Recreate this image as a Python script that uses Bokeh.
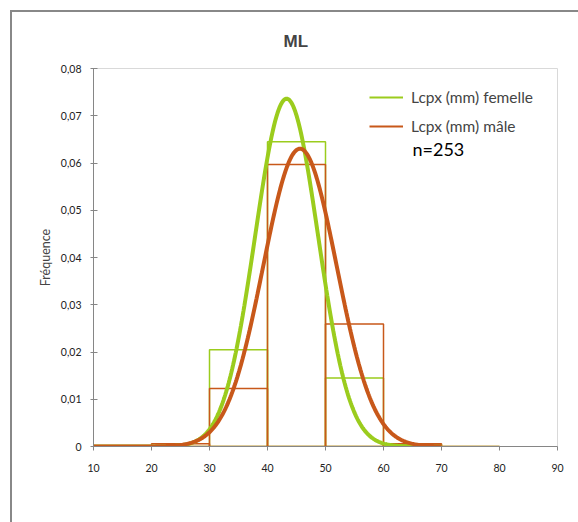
import numpy as np
from bokeh.plotting import figure
from bokeh.models import Range1d, FixedTicker, Label, Legend, LegendItem, Div
from bokeh.layouts import column
from bokeh.embed import file_html
from bokeh.resources import INLINE

# ---- data ----
bin_left = [10, 20, 30, 40, 50, 60, 70]
bin_right = [20, 30, 40, 50, 60, 70, 80]
female_freq = [0.0, 0.0, 0.0205, 0.0645, 0.0145, 0.0004, 0.0]
male_freq = [0.0, 0.0006, 0.0123, 0.0597, 0.0259, 0.0006, 0.0]
female_mean, female_sd = 43.3, 5.42
male_mean, male_sd = 45.6, 6.33
curve_start, curve_end = 10, 70
x_ticks = [10, 20, 30, 40, 50, 60, 70, 80, 90]
y_ticks = [0, 0.01, 0.02, 0.03, 0.04, 0.05, 0.06, 0.07, 0.08]
y_tick_labels = ["0", "0,01", "0,02", "0,03", "0,04", "0,05", "0,06", "0,07", "0,08"]
series_names = ["Lcpx (mm) femelle", "Lcpx (mm) mâle"]
n_label = "n=253"

GREEN = "#9bcc1d"
ORANGE = "#c8581a"
AXIS = "#868686"
FONT = "Lato"

p = figure(width=578, height=520, output_backend="svg", toolbar_location=None,
           x_range=Range1d(10, 90), y_range=Range1d(0, 0.08),
           min_border_left=93, min_border_right=21, min_border_top=68, min_border_bottom=74)

p.title.text = "ML"
p.title.text_font = "Liberation Sans"
p.title.text_font_size = "17px"
p.title.text_font_style = "bold"
p.title.align = "left"
p.title.offset = 190
p.title.standoff = 35
p.title.text_line_height = 1.9

p.xgrid.visible = False
p.ygrid.visible = False
p.outline_line_color = "#d9d9d9"
p.outline_line_width = 1

# histogram outlines
p.quad(left=bin_left, right=bin_right, bottom=0, top=female_freq,
       fill_color=None, line_color=GREEN, line_width=1.5)
p.quad(left=bin_left, right=bin_right, bottom=0, top=male_freq,
       fill_color=None, line_color=ORANGE, line_width=1.5)

xs = np.linspace(curve_start, curve_end, 400)
def pdf(x, m, s):
    return np.exp(-0.5 * ((x - m) / s) ** 2) / (s * np.sqrt(2 * np.pi))

r_f = p.line(xs, pdf(xs, female_mean, female_sd), line_color=GREEN, line_width=4)
r_m = p.line(xs, pdf(xs, male_mean, male_sd), line_color=ORANGE, line_width=4)

# legend samples are thin lines in the reference
lf = p.line([np.nan], [np.nan], line_color=GREEN, line_width=2)
lm = p.line([np.nan], [np.nan], line_color=ORANGE, line_width=2)

legend = Legend(items=[LegendItem(label=series_names[0], renderers=[lf]),
                       LegendItem(label=series_names[1], renderers=[lm])],
                location=(276, 310), padding=0, margin=0, spacing=9,
                glyph_width=34, glyph_height=20, label_height=20, label_standoff=8,
                label_text_font=FONT, label_text_font_size="15.5px",
                border_line_color=None, background_fill_color=None)
p.add_layout(legend)

p.add_layout(Label(x=65.0, y=0.0607, text=n_label, text_font=FONT,
                   text_font_size="18px", text_color="#000000"))

# axes
for ax in (p.xaxis[0], p.yaxis[0]):
    ax.axis_line_color = AXIS
    ax.major_tick_line_color = AXIS
    ax.minor_tick_line_color = None
    ax.major_label_text_font = FONT
    ax.major_label_text_font_size = "10.5px"
    ax.major_label_text_color = "#222222"

p.xaxis.ticker = FixedTicker(ticks=x_ticks)
p.xaxis.major_tick_out = 4
p.xaxis.major_tick_in = 0
p.xaxis.major_label_standoff = 13

p.yaxis.ticker = FixedTicker(ticks=y_ticks)
p.yaxis.major_label_overrides = {t: l for t, l in zip(y_ticks, y_tick_labels)}
p.yaxis.major_tick_out = 3
p.yaxis.major_tick_in = 4
p.yaxis.major_label_standoff = 9
p.yaxis.axis_label = "Fréquence"
p.yaxis.axis_label_text_font = FONT
p.yaxis.axis_label_text_font_size = "12.5px"
p.yaxis.axis_label_text_font_style = "normal"
p.yaxis.axis_label_standoff = 5

# outer chart-area border (top and left edges; runs off the window like the reference)
border = Div(width=1, height=1,
             text='<div style="position:fixed;left:10px;top:10px;width:800px;height:800px;'
                  'border-left:2px solid #888888;border-top:2px solid #888888;'
                  'pointer-events:none;"></div>')

layout = column(p, border, spacing=0)
open("out.html", "w").write(file_html(layout, INLINE))
